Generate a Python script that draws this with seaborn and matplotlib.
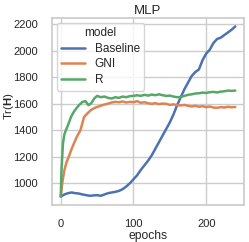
import pandas as pd
import matplotlib.pyplot as plt
import seaborn as sns

# valeurs
base_epochs = [0, 5, 10, 15, 20, 25, 30, 35, 40, 45, 50, 55, 60, 65, 70, 75, 80, 85, 90, 95,
               100, 105, 110, 115, 120, 125, 130, 135, 140, 145, 150, 155, 160, 165, 170, 175,
               180, 185, 190, 195, 200, 205, 210, 215, 220, 225, 230, 235, 240]
base_vals = [900, 915, 925, 930, 925, 922, 915, 910, 905, 908, 910, 905, 915, 925, 930, 935,
             942, 955, 975, 1000, 1030, 1060, 1100, 1135, 1170, 1210, 1260, 1310, 1360, 1410,
             1460, 1520, 1590, 1650, 1710, 1760, 1810, 1840, 1860, 1930, 1980, 2010, 2060,
             2090, 2100, 2120, 2140, 2160, 2185]

gni_epochs = [0, 2, 5, 8, 11, 15, 18, 22, 27, 32, 37, 42, 47, 52, 57, 64, 70, 75, 80, 85, 90,
              95, 100, 105, 110, 115, 120, 125, 130, 135, 140, 145, 150, 155, 160, 165, 170,
              175, 180, 185, 190, 195, 200, 205, 210, 215, 220, 225, 230, 235, 240]
gni_vals = [900, 1000, 1100, 1160, 1200, 1260, 1300, 1350, 1400, 1500, 1530, 1555, 1570,
            1580, 1590, 1600, 1610, 1615, 1612, 1618, 1610, 1615, 1612, 1620, 1608, 1612,
            1605, 1600, 1605, 1598, 1602, 1600, 1592, 1596, 1590, 1588, 1592, 1585, 1580,
            1585, 1578, 1582, 1575, 1580, 1572, 1570, 1575, 1572, 1578, 1574, 1576]

r_epochs = [0, 1, 3, 5, 7, 10, 14, 18, 22, 25, 30, 34, 38, 42, 46, 50, 55, 60, 65, 70, 75,
            80, 85, 90, 95, 100, 105, 110, 115, 120, 125, 130, 135, 140, 145, 150, 155, 160,
            165, 170, 175, 180, 185, 190, 195, 200, 205, 210, 215, 220, 225, 230, 235, 240]
r_vals = [900, 1100, 1300, 1370, 1400, 1440, 1500, 1540, 1570, 1590, 1615, 1620, 1590, 1605,
          1640, 1660, 1650, 1655, 1645, 1640, 1650, 1645, 1655, 1650, 1658, 1660, 1665, 1660,
          1668, 1662, 1670, 1665, 1672, 1665, 1660, 1662, 1655, 1650, 1652, 1660, 1668, 1672,
          1678, 1680, 1685, 1682, 1688, 1690, 1686, 1692, 1695, 1700, 1698, 1700]

df = pd.concat([
    pd.DataFrame({"epochs": base_epochs, "trace": base_vals, "model": "Baseline"}),
    pd.DataFrame({"epochs": gni_epochs, "trace": gni_vals, "model": "GNI"}),
    pd.DataFrame({"epochs": r_epochs, "trace": r_vals, "model": "R"}),
])

sns.set_theme(style="whitegrid", palette="deep")
plt.rcParams["font.family"] = ["Liberation Sans", "DejaVu Sans"]
plt.rcParams["mathtext.fontset"] = "custom"
plt.rcParams["mathtext.rm"] = "Liberation Sans"
plt.rcParams["mathtext.bf"] = "Liberation Sans:bold"

fig = plt.figure(figsize=(2.49, 2.42), dpi=100)
ax = fig.add_axes([0.209, 0.153, 0.771, 0.773])
sns.lineplot(data=df, x="epochs", y="trace", hue="model", lw=1.8, ax=ax)
ax.set_title("MLP", fontsize=9.5, pad=3)
ax.set_xlabel("epochs", fontsize=8.7, labelpad=1)
ax.set_ylabel(r"$\mathrm{Tr}(\mathbf{H})$", fontsize=8.2)
ax.yaxis.set_label_coords(-0.19, 0.53)
ax.set_xticks([0, 100, 200])
ax.set_yticks([1000, 1200, 1400, 1600, 1800, 2000, 2200])
ax.tick_params(labelsize=8)
ax.tick_params(axis="y", pad=4)
ax.tick_params(axis="x", pad=4)
leg = ax.legend(title="model", loc="upper left", fontsize=8.5, title_fontsize=8.5,
                borderaxespad=0.4, handlelength=2.0, labelspacing=0.3)
fig.savefig("out.png", dpi=100)
